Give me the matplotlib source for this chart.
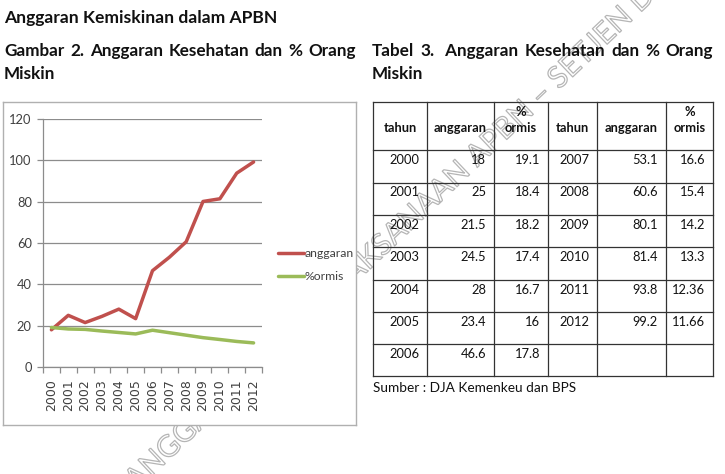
import numpy as np
import matplotlib.pyplot as plt
import matplotlib.patheffects as pe

# data
years = [2000, 2001, 2002, 2003, 2004, 2005, 2006, 2007, 2008, 2009, 2010, 2011, 2012]
anggaran = [18, 25, 21.5, 24.5, 28, 23.4, 46.6, 53.1, 60.6, 80.1, 81.4, 93.8, 99.2]
ormis = [19.1, 18.4, 18.2, 17.4, 16.7, 16, 17.8, 16.6, 15.4, 14.2, 13.3, 12.36, 11.66]
anggaran_txt = ['18', '25', '21.5', '24.5', '28', '23.4', '46.6', '53.1', '60.6', '80.1', '81.4', '93.8', '99.2']
ormis_txt = ['19.1', '18.4', '18.2', '17.4', '16.7', '16', '17.8', '16.6', '15.4', '14.2', '13.3', '12.36', '11.66']
yticks = [0, 20, 40, 60, 80, 100, 120]

W, H = 725, 474
FONT = 'Lato'
fig = plt.figure(figsize=(W / 100, H / 100), dpi=100)
fig.patch.set_facecolor('white')
renderer = fig.canvas.get_renderer()


def fx(x):
    return x / W


def fy(y):
    return 1 - y / H


def justify(words, x0, x1, y, **kw):
    texts = [fig.text(fx(x0), fy(y), w, va='baseline', **kw) for w in words]
    widths = [t.get_window_extent(renderer).width for t in texts]
    gap = (x1 - x0 - sum(widths)) / (len(words) - 1)
    x = x0
    for t, w in zip(texts, widths):
        t.set_x(fx(x))
        x += w + gap


# watermark (outline letters) behind everything, placed so "SETJEN" sits top right
wm_prefix = 'BIRO ANALISA ANGGARAN DAN PELAKSANAAN APBN \u2013 '
wm_text = wm_prefix + 'SETJEN DPR RI'
wm_kw = dict(fontsize=21.5, family=FONT)
tmp = fig.text(0, 0, wm_prefix, **wm_kw)
pw = tmp.get_window_extent(renderer).width
tmp.remove()
ang = 43.5
sx, sy = 560, 89
x0 = sx - pw * np.cos(np.radians(ang))
y0 = sy + pw * np.sin(np.radians(ang))
fig.text(fx(x0), fy(y0), wm_text, color=(1, 1, 1, 0), rotation=ang, rotation_mode='anchor',
         ha='left', va='baseline', zorder=0,
         path_effects=[pe.Stroke(linewidth=0.9, foreground='#b5b5b5')], **wm_kw)

# headings
fig.text(fx(4), fy(23), 'Anggaran Kemiskinan dalam APBN', fontsize=12.6, fontweight='bold',
         family=FONT, color='#111111')
justify(['Gambar', '2.', 'Anggaran', 'Kesehatan', 'dan', '%', 'Orang'], 4, 356, 56,
        fontsize=12.3, fontweight='bold', family=FONT, color='#111111')
fig.text(fx(4), fy(79), 'Miskin', fontsize=12.3, fontweight='bold', family=FONT, color='#111111')
justify(['Tabel', '3.', ' Anggaran', 'Kesehatan', 'dan', '%', 'Orang'], 372, 713, 56,
        fontsize=12.3, fontweight='bold', family=FONT, color='#111111')
fig.text(fx(372), fy(79), 'Miskin', fontsize=12.3, fontweight='bold', family=FONT, color='#111111')

# chart frame (white box covers the watermark)
frame = fig.add_axes([fx(3), fy(425), fx(356 - 3), (425 - 102) / H], zorder=1)
frame.set_xticks([])
frame.set_yticks([])
frame.set_facecolor('white')
for s in frame.spines.values():
    s.set_color('#b0b0b0')
    s.set_linewidth(1)

ax = fig.add_axes([fx(43), fy(367), fx(262 - 43), (367 - 119) / H], zorder=2)
ax.patch.set_alpha(0)
x = np.arange(len(years))
ax.plot(x, anggaran, color='#C0504D', lw=2.5, label='anggaran', solid_capstyle='round')
ax.plot(x, ormis, color='#9BBB59', lw=2.5, label='%ormis', solid_capstyle='round')
ax.set_xlim(-0.5, len(years) - 0.5)
ax.set_ylim(0, 120)
ax.set_yticks(yticks)
ax.set_yticklabels([str(v) for v in yticks], family=FONT, fontsize=9.3, color='#404040')
ax.yaxis.grid(True, color='#8c8c8c', lw=0.9)
ax.set_axisbelow(True)
ax.set_xticks(np.arange(len(years) + 1) - 0.5)
ax.set_xticklabels([])
ax.set_xticks(x, minor=True)
ax.set_xticklabels([str(y) for y in years], minor=True, rotation=90,
                   family='DejaVu Sans', fontsize=9, color='#404040')
ax.tick_params(axis='x', which='major', length=4, color='#8c8c8c', width=0.9)
ax.tick_params(axis='x', which='minor', length=0, pad=9)
ax.tick_params(axis='y', length=4, color='#8c8c8c', width=0.9, pad=4)
for s in ['top', 'right']:
    ax.spines[s].set_visible(False)
for s in ['left', 'bottom']:
    ax.spines[s].set_color('#8c8c8c')
    ax.spines[s].set_linewidth(0.9)
leg = ax.legend(loc='center left', bbox_to_anchor=(fx(278), fy(265)), bbox_transform=fig.transFigure,
                frameon=False, prop={'family': FONT, 'size': 8.8}, handlelength=2.1,
                handletextpad=0.1, labelspacing=1.0, borderaxespad=0, borderpad=0)
for t in leg.get_texts():
    t.set_color('#404040')

# table
col_edges = [373, 427, 494, 548, 597, 666, 713]
row_edges = [102, 150, 182.5, 215, 247, 279.5, 312, 344, 376]
lc = '#333333'
for xe in col_edges:
    fig.add_artist(plt.Line2D([fx(xe)] * 2, [fy(row_edges[0]), fy(row_edges[-1])], color=lc, lw=0.9, zorder=3))
for ye in row_edges:
    fig.add_artist(plt.Line2D([fx(col_edges[0]), fx(col_edges[-1])], [fy(ye)] * 2, color=lc, lw=0.9, zorder=3))

hdr = dict(fontsize=9.3, fontweight='bold', family=FONT, color='#111111', ha='center', va='baseline', zorder=4)
for k in range(2):
    c = k * 3
    fig.text(fx((col_edges[c] + col_edges[c + 1]) / 2), fy(132), 'tahun', **hdr)
    fig.text(fx((col_edges[c + 1] + col_edges[c + 2]) / 2), fy(132), 'anggaran', **hdr)
    fig.text(fx((col_edges[c + 2] + col_edges[c + 3]) / 2), fy(116), '%', **hdr)
    fig.text(fx((col_edges[c + 2] + col_edges[c + 3]) / 2), fy(132), 'ormis', **hdr)

cell = dict(fontsize=9.3, family=FONT, color='#111111', ha='right', va='baseline', zorder=4)
for i, yr in enumerate(years):
    k, r = divmod(i, 7)
    c = k * 3
    yb = row_edges[r + 1] + 14
    fig.text(fx(col_edges[c + 1] - 8), fy(yb), str(yr), **cell)
    fig.text(fx(col_edges[c + 2] - 8), fy(yb), anggaran_txt[i], **cell)
    fig.text(fx(col_edges[c + 3] - 8), fy(yb), ormis_txt[i], **cell)

fig.text(fx(373), fy(392), 'Sumber : DJA Kemenkeu dan BPS', fontsize=9.8, family=FONT,
         color='#111111', zorder=4)

fig.savefig('out.png', dpi=100)
